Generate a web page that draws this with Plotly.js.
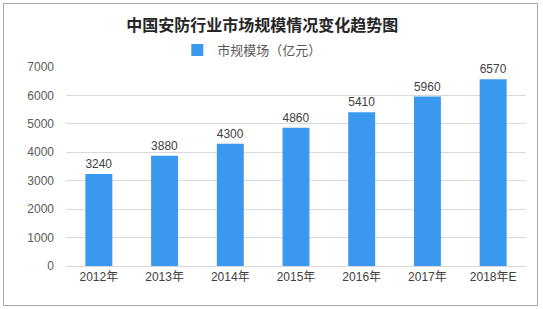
<!DOCTYPE html>
<html>
<head>
<meta charset="utf-8">
<script src="https://cdn.plot.ly/plotly-3.0.1.min.js"></script>
<style>
  html, body { margin: 0; padding: 0; background: #fff; }
  #wrap { position: relative; width: 543px; height: 309px; }
  #chart { width: 543px; height: 309px; }
  #frame { position: absolute; left: 3px; top: 3px; width: 533px; height: 301px;
           border: 1px solid #a6a6a6; pointer-events: none; }
</style>
</head>
<body>
<div id="wrap">
  <div id="chart"></div>
  <div id="frame"></div>
</div>
<script>
const categories = ['2012年', '2013年', '2014年', '2015年', '2016年', '2017年', '2018年E'];
const marketSize = [3240, 3880, 4300, 4860, 5410, 5960, 6570];
const seriesName = '市规模场（亿元）';
const chartTitle = '中国安防行业市场规模情况变化趋势图';
const yTicks = [0, 1000, 2000, 3000, 4000, 5000, 6000, 7000];

const fontFamily = '"Liberation Sans", "Noto Sans CJK SC", sans-serif';

const trace = {
  type: 'bar',
  x: categories,
  y: marketSize,
  name: seriesName,
  marker: { color: '#3a98ee' },
  text: marketSize.map(String),
  textposition: 'outside',
  cliponaxis: false,
  textfont: { family: fontFamily, size: 12, color: '#404040' },
  hoverinfo: 'x+y'
};

const layout = {
  width: 543,
  height: 309,
  margin: { l: 66, r: 17, t: 67, b: 43 },
  paper_bgcolor: '#ffffff',
  plot_bgcolor: '#ffffff',
  bargap: 0.59,
  showlegend: true,
  title: {
    text: '<b>' + chartTitle + '</b>',
    font: { family: '"Noto Sans CJK SC", sans-serif', size: 16, color: '#262626' },
    x: 0.483, xanchor: 'center',
    y: 0.918, yanchor: 'middle', yref: 'container'
  },
  legend: {
    orientation: 'h',
    x: 0.405, xanchor: 'center',
    y: 1.085, yanchor: 'middle',
    font: { family: '"Noto Sans CJK SC", sans-serif', size: 13, color: '#595959' },
    itemwidth: 30,
    bgcolor: 'rgba(0,0,0,0)'
  },
  xaxis: {
    type: 'category',
    tickfont: { family: fontFamily, size: 12, color: '#404040' },
    showgrid: false,
    showline: true,
    linecolor: '#d9d9d9',
    ticks: '',
    ticklen: 0,
    fixedrange: true
  },
  yaxis: {
    range: [0, 7000],
    tickvals: yTicks,
    ticktext: yTicks.map(String),
    tickfont: { family: fontFamily, size: 12, color: '#595959' },
    showgrid: true,
    gridcolor: '#d9d9d9',
    gridwidth: 1,
    zeroline: false,
    showline: false,
    ticks: '',
    ticklabelstandoff: 11,
    fixedrange: true
  }
};

Plotly.newPlot('chart', [trace], layout, { displayModeBar: false, staticPlot: true });
</script>
</body>
</html>
